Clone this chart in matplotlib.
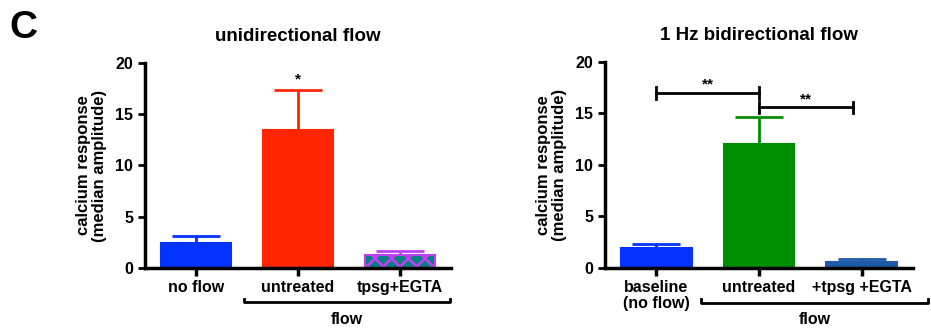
import numpy as np
import matplotlib.pyplot as plt

plt.rcParams['font.family'] = ['Liberation Sans', 'DejaVu Sans']
plt.rcParams['font.weight'] = 'bold'
plt.rcParams['hatch.linewidth'] = 2.0

# left panel data
uni_labels = ["no flow", "untreated", "tpsg+EGTA"]
uni_means = [2.4, 13.5, 1.3]
uni_err = [0.7, 3.9, 0.35]

# right panel data
bi_labels = ["baseline\n(no flow)", "untreated", "+tpsg +EGTA"]
bi_means = [1.9, 12.0, 0.6]
bi_err = [0.4, 2.7, 0.25]

fig = plt.figure(figsize=(9.31, 3.32), dpi=100)
ax1 = fig.add_axes([0.1557, 0.1928, 0.3287, 0.6175])
ax2 = fig.add_axes([0.6498, 0.1928, 0.3308, 0.6205])

def style_axis(ax, labels):
    x = np.arange(len(labels))
    ax.set_xlim(-0.5, 2.5)
    ax.set_ylim(0, 20)
    ax.set_yticks([0, 5, 10, 15, 20])
    ax.set_xticks(x)
    ax.set_xticklabels(labels, fontsize=11.5, fontweight='bold', linespacing=1.05)
    ax.tick_params(axis='y', labelsize=11.5, width=2, length=5)
    ax.tick_params(axis='x', width=2.5, length=6, pad=3)
    for s in ['top', 'right']:
        ax.spines[s].set_visible(False)
    for s in ['left', 'bottom']:
        ax.spines[s].set_linewidth(2.5)
    ax.set_ylabel("calcium response\n(median amplitude)", fontsize=12,
                  fontweight='bold', labelpad=6, linespacing=1.05)

def draw_bars(ax, means, err, faces, edges, hatches=None):
    x = np.arange(len(means))
    for i in range(len(means)):
        h = hatches[i] if hatches else None
        ax.bar(x[i], means[i], width=0.69, color=faces[i], edgecolor=edges[i],
               linewidth=1.5, hatch=h, zorder=2)
        ax.errorbar(x[i], means[i], yerr=[[0], [err[i]]], color=edges[i],
                    capsize=17, capthick=2, elinewidth=2, zorder=1)

def flow_bracket(ax, x0, x1):
    tr = ax.get_xaxis_transform()
    ax.plot([x0, x0, x1, x1], [-0.15, -0.168, -0.168, -0.15], color='black',
            lw=2, transform=tr, clip_on=False)
    ax.text((x0 + x1) / 2, -0.215, "flow", transform=tr, ha='center', va='top',
            fontsize=11.5, fontweight='bold')

# left panel
style_axis(ax1, uni_labels)
draw_bars(ax1, uni_means, uni_err,
          faces=['#0433FF', '#FF2600', '#008080'],
          edges=['#0433FF', '#FF2600', '#C040F0'],
          hatches=[None, None, 'xx'])
ax1.text(1, 17.7, "*", ha='center', va='bottom', fontsize=11, fontweight='bold')
ax1.set_title("unidirectional flow", fontsize=13.5, fontweight='bold', pad=16)
flow_bracket(ax1, 0.47, 2.49)

# right panel
style_axis(ax2, bi_labels)
draw_bars(ax2, bi_means, bi_err,
          faces=['#0433FF', '#008F00', '#1E5AA8'],
          edges=['#0433FF', '#008F00', '#1E5AA8'])
for (xa, xb, yv) in [(0, 1, 17.0), (1, 1.92, 15.6)]:
    ax2.plot([xa, xb], [yv, yv], color='black', lw=2)
    ax2.plot([xa, xa], [yv - 0.55, yv + 0.55], color='black', lw=2)
    ax2.plot([xb, xb], [yv - 0.55, yv + 0.55], color='black', lw=2)
    ax2.text((xa + xb) / 2, yv + 0.1, "**", ha='center', va='bottom',
             fontsize=11, fontweight='bold')
ax2.set_title("1 Hz bidirectional flow", fontsize=13.5, fontweight='bold', pad=16)
flow_bracket(ax2, 0.44, 2.65)

fig.text(0.010, 0.915, "C", fontsize=28, fontweight='bold', ha='left', va='center')

fig.savefig("out.png", dpi=100)
